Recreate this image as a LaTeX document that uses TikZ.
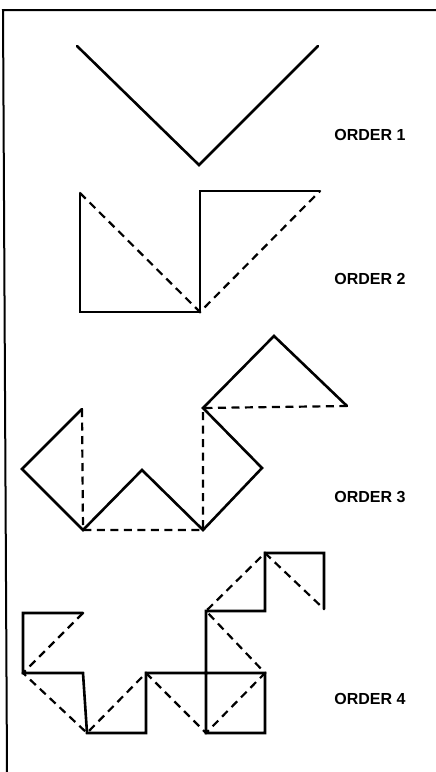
\documentclass[tikz,border=0pt]{standalone}
\usepackage{fontspec}
\setmainfont{Liberation Sans}
\begin{document}
\begin{tikzpicture}[x=1pt,y=-1pt,
  solidline/.style={line width=2.6pt,line join=miter,line cap=round},
  dashline/.style={line width=2.2pt,dash pattern=on 8pt off 5.5pt},
  frameline/.style={line width=2pt},
  lab/.style={font=\bfseries\fontsize{16}{18}\selectfont,inner sep=0pt}]
\useasboundingbox (0,0) rectangle (436,772);
% frame
\coordinate (f1) at (3,10);
\coordinate (f2) at (436,10);
\coordinate (f3) at (7,772);
\draw[frameline] (f2) -- (f1) -- (f3);
% order 1
\coordinate (a1) at (77,46);
\coordinate (a2) at (199,165);
\coordinate (a3) at (318,46);
\draw[solidline] (a1) -- (a2) -- (a3);
\node[lab] (l1) at (370,135) {ORDER 1};
% order 2
\coordinate (b1) at (80,193);
\coordinate (b2) at (80,312);
\coordinate (b3) at (200,312);
\coordinate (b4) at (200,191);
\coordinate (b5) at (320,191);
\draw[dashline] (b1) -- (b3) -- (b5);
\draw[solidline] (b1) -- (b2) -- (b3) -- (b4) -- (b5);
\node[lab] (l2) at (370,279) {ORDER 2};
% order 3
\coordinate (c1) at (82,409);
\coordinate (c2) at (22,469);
\coordinate (c3) at (83,530);
\coordinate (c4) at (142,470);
\coordinate (c5) at (203,530);
\coordinate (c6) at (262,468);
\coordinate (c7) at (203,408);
\coordinate (c8) at (274,336);
\coordinate (c9) at (347,406);
\draw[dashline] (c1) -- (c3) -- (c5) -- (c7) -- (c9);
\draw[solidline] (c1) -- (c2) -- (c3) -- (c4) -- (c5) -- (c6) -- (c7) -- (c8) -- (c9);
\node[lab] (l3) at (370,497) {ORDER 3};
% order 4
\coordinate (dB) at (83,613);
\coordinate (dA) at (23,613);
\coordinate (dC) at (23,673);
\coordinate (dD) at (83,673);
\coordinate (dE) at (87,733);
\coordinate (dF) at (146,733);
\coordinate (dG) at (146,673);
\coordinate (dK) at (206,673);
\coordinate (dH) at (206,733);
\coordinate (dI) at (265,733);
\coordinate (dJ) at (265,673);
\coordinate (dL) at (206,611);
\coordinate (dM) at (265,611);
\coordinate (dN) at (265,553);
\coordinate (dO) at (324,553);
\coordinate (dP) at (324,609);
\draw[dashline] (dB) -- (dC) -- (dE) -- (dG) -- (dH) -- (dJ) -- (dL) -- (dN) -- (dP);
\draw[solidline] (dB) -- (dA) -- (dC) -- (dD) -- (dE) -- (dF) -- (dG) -- (dK) -- (dH) -- (dI) -- (dJ) -- (dK) -- (dL) -- (dM) -- (dN) -- (dO) -- (dP);
\node[lab] (l4) at (370,699) {ORDER 4};
\end{tikzpicture}
\end{document}
